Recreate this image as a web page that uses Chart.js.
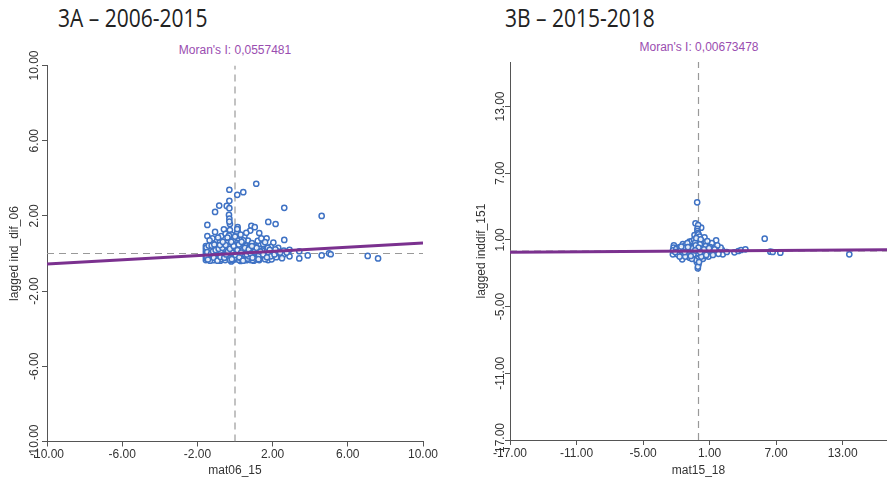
<!DOCTYPE html>
<html>
<head>
<meta charset="utf-8">
<script src="https://cdn.jsdelivr.net/npm/chart.js@4.4.1/dist/chart.umd.min.js"></script>
<style>
  body { margin: 0; background: #fff; width: 887px; height: 481px; overflow: hidden; position: relative; }
  canvas { position: absolute; top: 0; }
  .title { position: absolute; top: 2px; font: 25px "Open Sans", sans-serif; line-height: 30px; color: #222; transform: scaleX(0.84); transform-origin: left top; white-space: nowrap; }
  .moran { position: absolute; font: 12px "Liberation Sans", Arial, sans-serif; color: #9a4db0; white-space: nowrap; transform: translate(-50%, -50%); }
</style>
</head>
<body>
<div class="title" style="left:58px">3A – 2006-2015</div>
<div class="title" style="left:505px">3B – 2015-2018</div>
<div class="moran" style="left:235px; top:50px">Moran's I: 0,0557481</div>
<div class="moran" style="left:699px; top:47px">Moran's I: 0,00673478</div>
<canvas id="chartA" width="440" height="481" style="left:0px"></canvas>
<canvas id="chartB" width="417" height="481" style="left:470px"></canvas>
<script>
// 3A - 2006-2015
const ticksA = [-10, -6, -2, 2, 6, 10]
const moranA = 0.0557481
const pointsA = [
  [1.13, 3.71], [-0.30, 3.39], [0.12, 3.12], [0.44, 3.26], [-0.30, 2.80], [-0.84, 2.55], [-0.44, 2.53],
  [-0.30, 2.41], [-1.06, 2.21], [-0.32, 2.05], [2.62, 2.43], [4.61, 2.00], [-1.47, 1.52], [-0.27, 1.57],
  [1.77, 1.68], [2.16, 1.57], [0.87, 1.47], [1.05, 1.40], [0.14, 1.40], [0.14, 1.22], [-1.47, 0.93],
  [-1.06, 1.15], [-0.59, 1.29], [-0.27, 1.25], [0.81, 1.22], [1.29, 1.09], [-0.73, 0.93], [-0.97, 0.72],
  [2.62, 0.72], [1.68, 0.81], [2.04, 0.58], [1.21, 0.67], [0.69, 0.68], [0.27, 0.76], [-0.12, 0.81],
  [-0.5, 1.05], [-0.2, 1.0], [0.1, 0.95], [0.5, 0.9], [-0.8, 0.6], [-1.2, 0.55], [0.9, 0.55], [1.5, 0.5],
  [1.9, 0.35], [2.3, 0.3], [2.6, 0.15], [2.9, 0.2], [-0.35, 0.62], [0.05, 0.55], [0.35, 0.5], [-0.6, 0.45],
  [1.1, 0.42], [0.12, 1.1], [0.12, 0.9], [0.12, 0.7], [0.12, 0.55], [-0.3, 1.85], [-0.3, 1.7], [-0.32, 0.95],
  [3.42, 0.12], [3.42, -0.26], [3.87, -0.10], [4.61, -0.10], [5.00, 0.01], [5.09, -0.04], [7.06, -0.13],
  [7.61, -0.26], [2.39, -0.10], [2.58, -0.05], [1.76, -0.35], [1.95, -0.31], [1.29, -0.35], [2.2, -0.2],
  [2.9, -0.15], [1.0, -0.38], [0.6, -0.36], [0.3, -0.4], [-0.2, -0.42],
  [-1.55, -0.35], [-1.55, -0.2], [-1.55, -0.05], [-1.55, 0.1], [-1.55, 0.25], [-1.55, 0.4], [-1.5, 0.0],
  [-1.5, 0.15], [-1.5, -0.28], [-1.45, 0.32],
  [-1.35, -0.22], [-1.3, 0.12], [-1.25, 0.35], [-1.2, -0.05], [-1.15, 0.22], [-1.1, -0.3], [-1.05, 0.05],
  [-1.0, 0.4], [-0.95, -0.15], [-0.9, 0.18], [-0.85, -0.33], [-0.8, 0.28], [-0.75, 0.0], [-0.7, -0.2],
  [-0.65, 0.15], [-0.6, 0.35], [-0.55, -0.1], [-0.5, 0.08], [-0.45, -0.28], [-0.4, 0.25], [-0.35, -0.05],
  [-0.3, 0.42], [-0.25, 0.1], [-0.2, -0.18], [-0.15, 0.3], [-0.1, -0.35], [-0.05, 0.02], [0.0, 0.2],
  [0.05, -0.12], [0.1, 0.38], [0.15, -0.25], [0.2, 0.06], [0.25, 0.28], [0.3, -0.08], [0.35, 0.16],
  [0.4, -0.3], [0.45, 0.4], [0.5, 0.0], [0.55, 0.22], [0.6, -0.18], [0.65, 0.1], [0.7, 0.33], [0.75, -0.05],
  [0.8, 0.18], [0.85, -0.25], [0.9, 0.05], [0.95, 0.3], [1.0, -0.12], [1.1, 0.12], [1.2, -0.2], [1.3, 0.25],
  [1.4, 0.0], [1.55, -0.15], [1.65, 0.2], [1.8, 0.05], [2.0, 0.1],
  [-1.38, 0.05], [-1.28, -0.32], [-1.18, 0.44], [-1.08, 0.25], [-0.98, 0.02], [-0.88, -0.08], [-0.78, -0.38],
  [-0.68, 0.4], [-0.58, 0.1], [-0.48, 0.3], [-0.38, -0.15], [-0.28, 0.0], [-0.18, 0.5], [-0.08, 0.15],
  [0.02, -0.3], [0.12, 0.05], [0.22, -0.35], [0.32, 0.45], [0.42, 0.1], [0.52, -0.25], [0.62, 0.42],
  [0.72, 0.08], [0.82, -0.35], [-0.02, 0.6], [-0.12, 0.7], [-0.22, 0.3], [-0.42, 0.55], [-0.72, 0.2],
  [-1.0, -0.2], [-1.22, 0.08],
  [-1.42, -0.12], [-1.32, 0.3], [-1.22, -0.18], [-1.12, 0.38], [-1.02, -0.05], [-0.92, 0.32], [-0.82, 0.1],
  [-0.72, -0.3], [-0.62, 0.22], [-0.52, -0.35], [-0.42, 0.05], [-0.32, -0.25], [-0.22, 0.15], [-0.12, -0.1],
  [-0.02, 0.35], [0.08, -0.2], [0.18, 0.25], [0.28, -0.15], [0.38, 0.3], [0.48, -0.1], [0.58, 0.15],
  [0.68, -0.28], [0.78, 0.38], [0.88, -0.15], [0.98, 0.15], [1.08, -0.3], [1.18, 0.05], [1.28, -0.1],
  [1.45, 0.15], [1.6, -0.3], [1.75, 0.3], [1.9, -0.15], [2.1, -0.05], [2.3, 0.1], [2.5, -0.25], [2.75, 0.05],
  [-1.46, 0.2], [-1.36, -0.05], [-1.26, 0.2], [-1.16, -0.36], [-1.06, 0.3], [-0.96, -0.3], [-0.86, 0.42],
  [-0.76, 0.15], [-0.66, -0.1], [-0.56, 0.28], [-0.46, 0.18], [-0.36, 0.35], [-0.26, -0.35], [-0.16, 0.05],
  [-0.06, -0.25], [0.04, 0.3], [0.14, -0.05], [0.24, 0.4], [0.34, -0.28], [0.44, 0.2], [0.54, -0.05],
  [0.64, 0.3], [0.74, -0.15], [0.84, 0.25], [0.94, -0.35], [1.04, 0.35], [-0.9, 0.85], [-0.4, 0.85],
  [0.3, 1.0], [0.6, 1.1], [-1.2, 0.8], [1.4, 0.8], [0.45, 0.7], [-0.05, 0.45], [0.0, 0.9], [0.12, 1.3],
  [-1.52, -0.15], [-1.52, 0.32], [-1.48, 0.08], [-1.4, 0.42], [-1.33, -0.38], [-1.27, 0.0], [-1.17, 0.12],
  [-1.13, -0.22], [-1.03, 0.18], [-0.93, -0.38], [-0.87, 0.25], [-0.77, -0.18], [-0.67, 0.3], [-0.57, -0.22],
  [-0.47, -0.05], [-0.37, 0.12], [-0.27, 0.25], [-0.17, -0.3], [-0.07, 0.4], [0.03, -0.08], [0.13, 0.18],
  [0.23, -0.2], [0.33, 0.05], [0.43, -0.38], [0.53, 0.3], [0.63, -0.05], [0.73, 0.22], [0.83, 0.0],
  [0.93, -0.22], [1.03, 0.08], [1.15, 0.3], [1.25, -0.3], [1.35, 0.1], [1.5, -0.05], [1.7, -0.2], [1.85, 0.2],
  [2.15, 0.22], [2.4, 0.05], [-1.44, -0.32], [-1.24, 0.42], [-0.5, 0.45], [0.2, 0.48], [-0.8, 0.45],
  [0.9, 0.4], [-1.1, 0.48], [-0.2, 0.62], [0.35, 0.62], [-0.65, 0.62], [1.6, 0.6], [-1.35, 0.7]
]

// 3B - 2015-2018
const ticksB = [-17, -11, -5, 1, 7, 13]
const moranB = 0.00673478
const pointsB = [
  [-0.12, 4.38], [-0.27, 2.49], [0.24, 2.10], [-0.03, 2.34], [-0.36, 1.44], [0.54, 1.23], [1.59, 0.96],
  [5.97, 1.11], [-2.22, 0.51], [-2.25, 0.3], [-1.41, 0.63], [-0.81, 0.84], [-1.47, -0.75], [-2.31, -0.30],
  [-2.3, 0.05], [2.13, 0.09], [2.19, -0.30], [2.55, -0.09], [3.24, -0.12], [3.60, 0.0], [3.84, 0.09],
  [4.23, 0.15], [6.48, -0.06], [6.69, -0.09], [7.38, -0.15], [13.6, -0.30],
  [-0.1, 2.0], [-0.1, 1.8], [-0.05, 1.6], [-0.1, 1.3], [0.0, 1.1], [-0.1, 0.9], [0.05, 0.7], [-0.05, -0.6],
  [-0.1, -0.9], [0.0, -1.2], [-0.06, -1.56], [-0.15, -1.0], [0.1, -0.8],
  [-2.0, 0.2], [-1.8, -0.1], [-1.7, 0.35], [-1.5, 0.0], [-1.4, -0.3], [-1.3, 0.25], [-1.2, 0.5], [-1.1, -0.15],
  [-1.0, 0.1], [-0.9, -0.45], [-0.8, 0.4], [-0.7, 0.0], [-0.6, -0.3], [-0.5, 0.6], [-0.4, 0.15], [-0.3, -0.5],
  [-0.2, 0.3], [0.1, 0.45], [0.2, -0.2], [0.3, 0.1], [0.4, -0.4], [0.5, 0.35], [0.6, -0.1], [0.7, 0.2],
  [0.8, -0.3], [0.9, 0.5], [1.0, 0.0], [1.1, -0.2], [1.2, 0.3], [1.4, -0.1], [1.6, 0.1], [1.8, -0.25],
  [-0.6, 0.9], [-0.4, 1.0], [0.3, 0.9], [0.6, 0.75], [-1.0, 0.7], [-0.2, -0.8], [0.4, -0.7], [-0.8, -0.6],
  [1.2, 0.7], [0.9, -0.5], [-0.45, 0.45], [0.15, 0.2], [-0.25, -0.15], [0.55, 0.05],
  [-1.9, -0.3], [-1.6, 0.2], [-1.35, 0.05], [-1.15, 0.3], [-0.95, -0.2], [-0.75, 0.25], [-0.55, -0.05],
  [-0.35, 0.4], [-0.15, -0.35], [0.05, 0.1], [0.25, 0.35], [0.45, -0.15], [0.65, 0.45], [0.85, 0.1],
  [1.05, 0.35], [1.25, -0.05], [1.5, 0.3], [-1.2, -0.5], [-0.6, -0.7], [0.0, -0.5], [0.6, -0.45], [1.3, -0.35],
  [-0.15, 0.6], [0.2, 0.7], [-0.3, 0.75], [0.0, 1.5], [0.1, 1.3], [-0.2, 1.15], [0.2, 1.05], [-0.05, -1.4],
  [0.05, -1.0], [-1.7, -0.5], [2.0, 0.3], [-2.1, -0.1], [1.7, 0.5], [0.8, 0.9],
  [-0.08, 0.3], [0.08, -0.3], [-0.05, 0.05], [0.12, 0.6], [-0.12, -0.2], [0.35, -0.25], [-0.45, -0.3],
  [0.75, -0.1], [-0.85, 0.05], [1.15, 0.1], [-1.25, -0.1], [0.5, 0.15], [-0.5, 0.25], [0.25, -0.5],
  [-0.25, 0.5], [0.95, 0.25], [-0.95, 0.35], [1.45, 0.15], [-1.55, 0.4], [0.0, 0.3], [0.15, -0.1],
  [-0.3, 0.05], [0.7, -0.35], [-0.7, -0.45]
]

const pointColor = '#3f72c4'
const lineColor = '#7b318f'
const axisColor = '#555'

// draws the rotated y tick labels and y title from the y scale
const yLabels = {
  id: 'yLabels',
  afterDraw(chart, args, opts) {
    const ctx = chart.ctx
    const y = chart.scales.y
    ctx.save()
    ctx.fillStyle = '#333'
    ctx.font = '12px "Liberation Sans", Arial, sans-serif'
    ctx.textAlign = 'center'
    ctx.textBaseline = 'middle'
    y.ticks.forEach(function (t) {
      ctx.save()
      ctx.translate(opts.labelX, y.getPixelForValue(t.value))
      ctx.rotate(-Math.PI / 2)
      ctx.fillText(t.value.toFixed(2), 0, 0)
      ctx.restore()
    })
    ctx.translate(opts.titleX, (y.top + y.bottom) / 2)
    ctx.rotate(-Math.PI / 2)
    ctx.fillText(opts.title, 0, 0)
    ctx.restore()
  },
}

function makeChart(id, pts, tickVals, lim, moran, xTitle, yTitle, yAxisW, xAxisH, padRight, padTop, labelX, titleX) {
  const scatter = pts.map(function (p) { return { x: p[0], y: p[1] } })
  const fixTicks = function (scale) {
    scale.ticks = tickVals.map(function (v) { return { value: v } })
  }
  const axisGrid = { drawOnChartArea: false, drawTicks: true, tickLength: 5, color: axisColor }
  const font = { family: '"Liberation Sans", Arial, sans-serif', size: 12 }
  return new Chart(document.getElementById(id), {
    type: 'scatter',
    data: {
      datasets: [
        {
          type: 'line',
          data: [{ x: -lim, y: -lim * moran }, { x: lim, y: lim * moran }],
          borderColor: lineColor,
          borderWidth: 3,
          pointRadius: 0,
          order: 0,
        },
        {
          data: scatter,
          pointRadius: 2.6,
          borderWidth: 1.5,
          borderColor: pointColor,
          backgroundColor: 'rgba(255,255,255,0.85)',
          order: 1,
        },
        {
          type: 'line',
          data: [{ x: 0, y: -lim }, { x: 0, y: lim }],
          borderColor: '#999',
          borderWidth: 1.2,
          borderDash: [7, 5],
          pointRadius: 0,
          order: 2,
        },
        {
          type: 'line',
          data: [{ x: -lim, y: 0 }, { x: lim, y: 0 }],
          borderColor: '#999',
          borderWidth: 1.2,
          borderDash: [7, 5],
          pointRadius: 0,
          order: 2,
        },
      ],
    },
    options: {
      responsive: false,
      animation: false,
      devicePixelRatio: 1,
      layout: { autoPadding: false, padding: { top: padTop, right: padRight, left: 0, bottom: 0 } },
      plugins: {
        legend: { display: false },
        tooltip: { enabled: false },
        yLabels: { labelX: labelX, titleX: titleX, title: yTitle },
      },
      scales: {
        x: {
          type: 'linear',
          min: -lim,
          max: lim,
          afterBuildTicks: fixTicks,
          afterFit: function (s) { s.height = xAxisH },
          grid: axisGrid,
          border: { display: true, color: axisColor, width: 1 },
          ticks: {
            color: '#333',
            font: font,
            padding: 1,
            maxRotation: 0,
            callback: function (v) { return Number(v).toFixed(2) },
          },
          title: {
            display: true,
            text: xTitle,
            color: '#333',
            font: font,
            padding: { top: 0, bottom: 3 },
          },
        },
        y: {
          type: 'linear',
          min: -lim,
          max: lim,
          afterBuildTicks: fixTicks,
          afterFit: function (s) { s.width = yAxisW },
          grid: axisGrid,
          border: { display: true, color: axisColor, width: 1 },
          ticks: { display: false },
        },
      },
    },
    plugins: [yLabels],
  })
}

makeChart('chartA', pointsA, ticksA, 10, moranA, 'mat06_15', 'lagged ind_dif_06', 47, 39.5, 17, 65.5, 35, 15)
makeChart('chartB', pointsB, ticksB, 17, moranB, 'mat15_18', 'lagged inddif_151', 40, 41, 0, 62, 31, 12)
</script>
</body>
</html>
